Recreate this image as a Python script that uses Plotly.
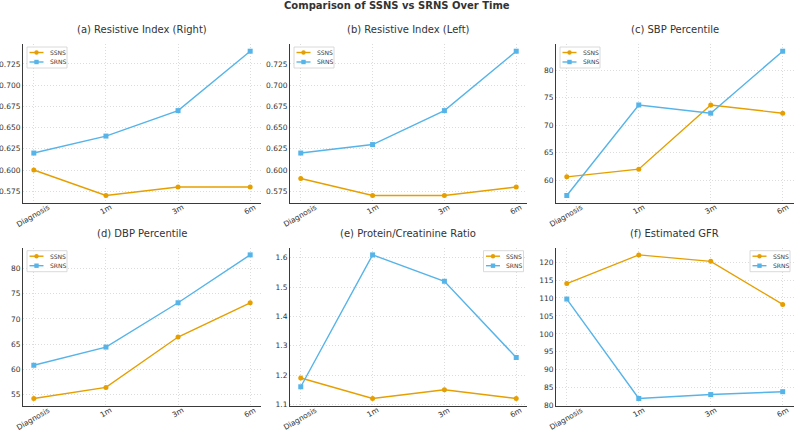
import math
import plotly.graph_objects as go
from plotly.subplots import make_subplots

# ---- data ----
timepoints = ["Diagnosis", "1m", "3m", "6m"]
titles = ["(a) Resistive Index (Right)", "(b) Resistive Index (Left)", "(c) SBP Percentile",
          "(d) DBP Percentile", "(e) Protein/Creatinine Ratio", "(f) Estimated GFR"]
ri_right_ssns = [0.60, 0.57, 0.58, 0.58]
ri_right_srns = [0.62, 0.64, 0.67, 0.74]
ri_left_ssns = [0.59, 0.57, 0.57, 0.58]
ri_left_srns = [0.62, 0.63, 0.67, 0.74]
sbp_ssns = [60.6, 62.0, 73.7, 72.2]
sbp_srns = [57.2, 73.7, 72.2, 83.5]
dbp_ssns = [54.2, 56.4, 66.4, 73.2]
dbp_srns = [60.8, 64.4, 73.2, 82.7]
pcr_ssns = [1.19, 1.12, 1.15, 1.12]
pcr_srns = [1.16, 1.61, 1.52, 1.26]
gfr_ssns = [114.0, 122.0, 120.2, 108.2]
gfr_srns = [109.7, 82.0, 83.1, 83.9]
y_dtick = [0.025, 0.025, 5, 5, 0.1, 5]
y_fmt = [".3f", ".3f", "", "", ".1f", ""]
legend_side = ["left", "left", "left", "left", "right", "right"]

panels = [(ri_right_ssns, ri_right_srns), (ri_left_ssns, ri_left_srns), (sbp_ssns, sbp_srns),
          (dbp_ssns, dbp_srns), (pcr_ssns, pcr_srns), (gfr_ssns, gfr_srns)]

ORANGE = "#E69F00"
BLUE = "#56B4E9"
TEXT = "#333333"
AXIS = "#3a3a3a"
FONT = "DejaVu Sans"
W, H = 794, 432
XFS = 7.5  # x tick label font size
ANG = 30

# approximate DejaVu Sans advance widths (em) for label centring
CW = {"D": .770, "i": .278, "a": .613, "g": .635, "n": .634, "o": .612, "s": .521,
      "1": .636, "3": .636, "6": .636, "m": .974}

def rot_half_height(s):
    w = sum(CW.get(ch, .6) for ch in s) * XFS
    h = XFS * 1.17
    return (w * math.sin(math.radians(ANG)) + h * math.cos(math.radians(ANG))) / 2

# panel pixel boxes (left, right, top, bottom)
col_px = [(23, 261), (290, 527), (556, 793.5)]
row_px = [(44, 202.7), (247.7, 405.7)]

fig = make_subplots(rows=2, cols=3, horizontal_spacing=0.03, vertical_spacing=0.1)

shapes = []
annotations = []

def px(x, y):
    return x / W, 1 - y / H

for i, (ssns, srns) in enumerate(panels):
    r, c = i // 3 + 1, i % 3 + 1
    fig.add_trace(go.Scatter(x=timepoints, y=ssns, mode="lines+markers", name="SSNS",
                             line=dict(color=ORANGE, width=1.4),
                             marker=dict(symbol="circle", size=5, color=ORANGE),
                             showlegend=False, cliponaxis=False), row=r, col=c)
    fig.add_trace(go.Scatter(x=timepoints, y=srns, mode="lines+markers", name="SRNS",
                             line=dict(color=BLUE, width=1.4),
                             marker=dict(symbol="square", size=5, color=BLUE),
                             showlegend=False, cliponaxis=False), row=r, col=c)
    allv = ssns + srns
    lo, hi = min(allv), max(allv)
    pad = (hi - lo) * 0.05
    l, rr = col_px[c - 1]
    t, b = row_px[r - 1]
    fig.update_xaxes(row=r, col=c, domain=[l / W, rr / W], range=[-0.15, 3.15], automargin=False,
                     showticklabels=False, showline=True, linecolor=AXIS, linewidth=1,
                     ticks="",
                     showgrid=True, gridcolor="#dcdcdc", griddash="1px,2px", gridwidth=1,
                     zeroline=False)
    fig.update_yaxes(row=r, col=c, domain=[1 - b / H, 1 - t / H], range=[lo - pad, hi + pad],
                     automargin=False,
                     dtick=y_dtick[i], tickformat=y_fmt[i], showline=True, linecolor=AXIS, linewidth=1,
                     ticks="",
                     showgrid=True, gridcolor="#dcdcdc", griddash="1px,2px", gridwidth=1,
                     tickfont=dict(family=FONT, size=7.5, color=TEXT), zeroline=False)
    # rotated x tick labels, centred on their category like the reference
    xref = "x" if i == 0 else f"x{i + 1}"
    yref = ("y" if i == 0 else f"y{i + 1}") + " domain"
    for tp in timepoints:
        annotations.append(dict(text=tp, x=tp, y=0, xref=xref, yref=yref,
                                xanchor="center", yanchor="middle", borderpad=0,
                                yshift=-(0.3 + rot_half_height(tp)), textangle=-ANG,
                                showarrow=False, font=dict(family=FONT, size=XFS, color=TEXT)))
    # subplot title
    cx, cy = px((l + rr) / 2, t - 7)
    annotations.append(dict(text=titles[i], x=cx, y=cy, xref="paper", yref="paper",
                            xanchor="center", yanchor="bottom", showarrow=False,
                            font=dict(family=FONT, size=10, color=TEXT)))
    # legend box
    bw, bh = 40, 21
    if legend_side[i] == "left":
        bx0 = l + 4
    else:
        bx0 = rr - 3.5 - bw
    by0 = t + 3
    x0, y0 = px(bx0, by0)
    x1, y1 = px(bx0 + bw, by0 + bh)
    shapes.append(dict(type="rect", xref="paper", yref="paper", x0=x0, y0=y1, x1=x1, y1=y0,
                       line=dict(color="#d0d0d0", width=0.8), fillcolor="rgba(255,255,255,0.85)",
                       layer="above"))
    for k, (name, col, sym) in enumerate([("SSNS", ORANGE, "circle"), ("SRNS", BLUE, "rect")]):
        yy = by0 + 5.5 + k * 9.5
        lx0, ly = px(bx0 + 2.5, yy)
        lx1, _ = px(bx0 + 16.5, yy)
        shapes.append(dict(type="line", xref="paper", yref="paper", x0=lx0, y0=ly, x1=lx1, y1=ly,
                           line=dict(color=col, width=1.4), layer="above"))
        mx0, my0 = px(bx0 + 9.5 - 2.2, yy - 2.2)
        mx1, my1 = px(bx0 + 9.5 + 2.2, yy + 2.2)
        shapes.append(dict(type=sym, xref="paper", yref="paper", x0=mx0, y0=my1, x1=mx1, y1=my0,
                           line=dict(color=col, width=0), fillcolor=col, layer="above"))
        tx, ty = px(bx0 + 20.5, yy)
        annotations.append(dict(text=name, x=tx, y=ty, xref="paper", yref="paper",
                                xanchor="left", yanchor="middle", showarrow=False,
                                font=dict(family=FONT, size=6, color=TEXT)))

annotations.append(dict(text="<b>Comparison of SSNS vs SRNS Over Time</b>", x=0.5, y=1 - 5.5 / H,
                        xref="paper", yref="paper", xanchor="center", yanchor="middle",
                        showarrow=False, font=dict(family=FONT, size=10, color=TEXT)))

fig.update_layout(width=W, height=H, margin=dict(l=0, r=0, t=0, b=0, autoexpand=False),
                  paper_bgcolor="white", plot_bgcolor="white",
                  shapes=shapes, annotations=annotations, showlegend=False,
                  font=dict(family=FONT, color=TEXT))

fig.write_html("out.html")
